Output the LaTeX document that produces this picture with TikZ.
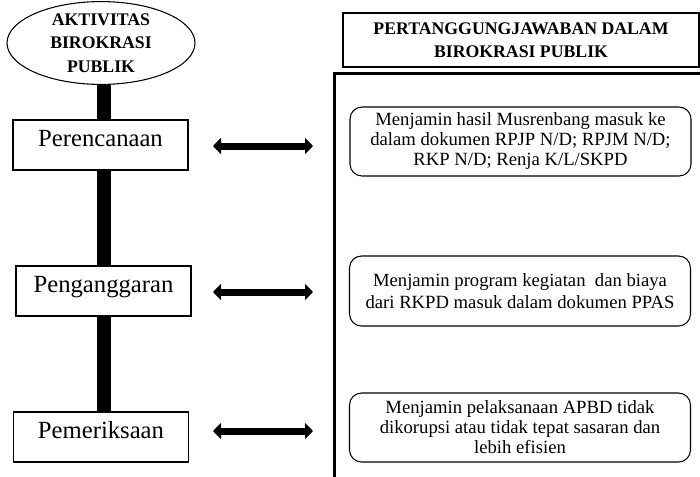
\documentclass[tikz,border=0pt]{standalone}
\usepackage{fontspec}
\setmainfont{Liberation Serif}
\usetikzlibrary{shapes.geometric,arrows.meta}
\begin{document}
\begin{tikzpicture}[x=0.75pt,y=-0.75pt,
  ellbox/.style={draw,ellipse,line width=0.8pt,minimum width=141pt,minimum height=60pt,inner sep=0pt,align=center,font=\fontsize{13.3}{17.5}\selectfont\bfseries},
  actbox/.style={draw,rectangle,line width=1pt,minimum width=131.25pt,inner sep=0pt,text height=19.5pt,text depth=18pt,font=\fontsize{18.5}{22}\selectfont},
  headbox/.style={draw,rectangle,line width=1.4pt,minimum width=267pt,minimum height=40.5pt,inner sep=0pt,align=center,font=\fontsize{13.3}{17}\selectfont\bfseries},
  rbox/.style={draw,rectangle,rounded corners=9pt,line width=0.8pt,minimum width=255.75pt,minimum height=52pt,inner sep=0pt,align=center,font=\fontsize{14}{15}\selectfont},
  bar/.style={line width=10.5pt},
  dbl/.style={line width=5.25pt,{Triangle[width=12pt,length=6pt]}-{Triangle[width=12pt,length=6pt]}},
  frame/.style={line width=2.25pt}
]
\useasboundingbox (0,0) rectangle (700,476);
\clip (0,0) rectangle (700,476);
\coordinate (bx) at (104,0);
% nodes
\node[ellbox] (ell) at (101,43) {AKTIVITAS\\BIROKRASI\\PUBLIK};
\node[actbox] (p1) at (100.5,145) {Perencanaan};
\node[actbox] (p2) at (103.5,291) {Penganggaran};
\node[actbox] (p3) at (101,437) {Pemeriksaan};
\draw[bar] (ell.south -| bx) -- (p1.north -| bx);
\draw[bar] (p1.south -| bx) -- (p2.north -| bx);
\draw[bar] (p2.south -| bx) -- (p3.north -| bx);
\node[headbox] (head) at (521,40) {PERTANGGUNGJAWABAN DALAM\\BIROKRASI PUBLIK};
\coordinate (fbl) at (334.5,480);
\coordinate (ftl) at (334.5,73);
\coordinate (ftr) at (704,73);
\draw[frame] (fbl) -- (ftl) -- (ftr);
\node[rbox,minimum height=51.75pt] (r1) at (520.5,141.5) {Menjamin hasil Musrenbang masuk ke\\dalam dokumen RPJP N/D; RPJM N/D;\\RKP N/D; Renja K/L/SKPD};
\node[rbox,minimum height=52.5pt,font=\fontsize{14}{17}\selectfont] (r2) at (520,291) {Menjamin program kegiatan~ dan biaya\\dari RKPD masuk dalam dokumen PPAS};
\node[rbox,minimum height=51.75pt] (r3) at (520,427.5) {Menjamin pelaksanaan APBD tidak\\dikorupsi atau tidak tepat sasaran dan\\lebih efisien};
% arrows
\coordinate (a1l) at (213,146); \coordinate (a1r) at (313,146);
\coordinate (a2l) at (213,292); \coordinate (a2r) at (313,292);
\coordinate (a3l) at (213,431); \coordinate (a3r) at (313,431);
\draw[dbl] (a1l) -- (a1r);
\draw[dbl] (a2l) -- (a2r);
\draw[dbl] (a3l) -- (a3r);
\end{tikzpicture}
\end{document}
